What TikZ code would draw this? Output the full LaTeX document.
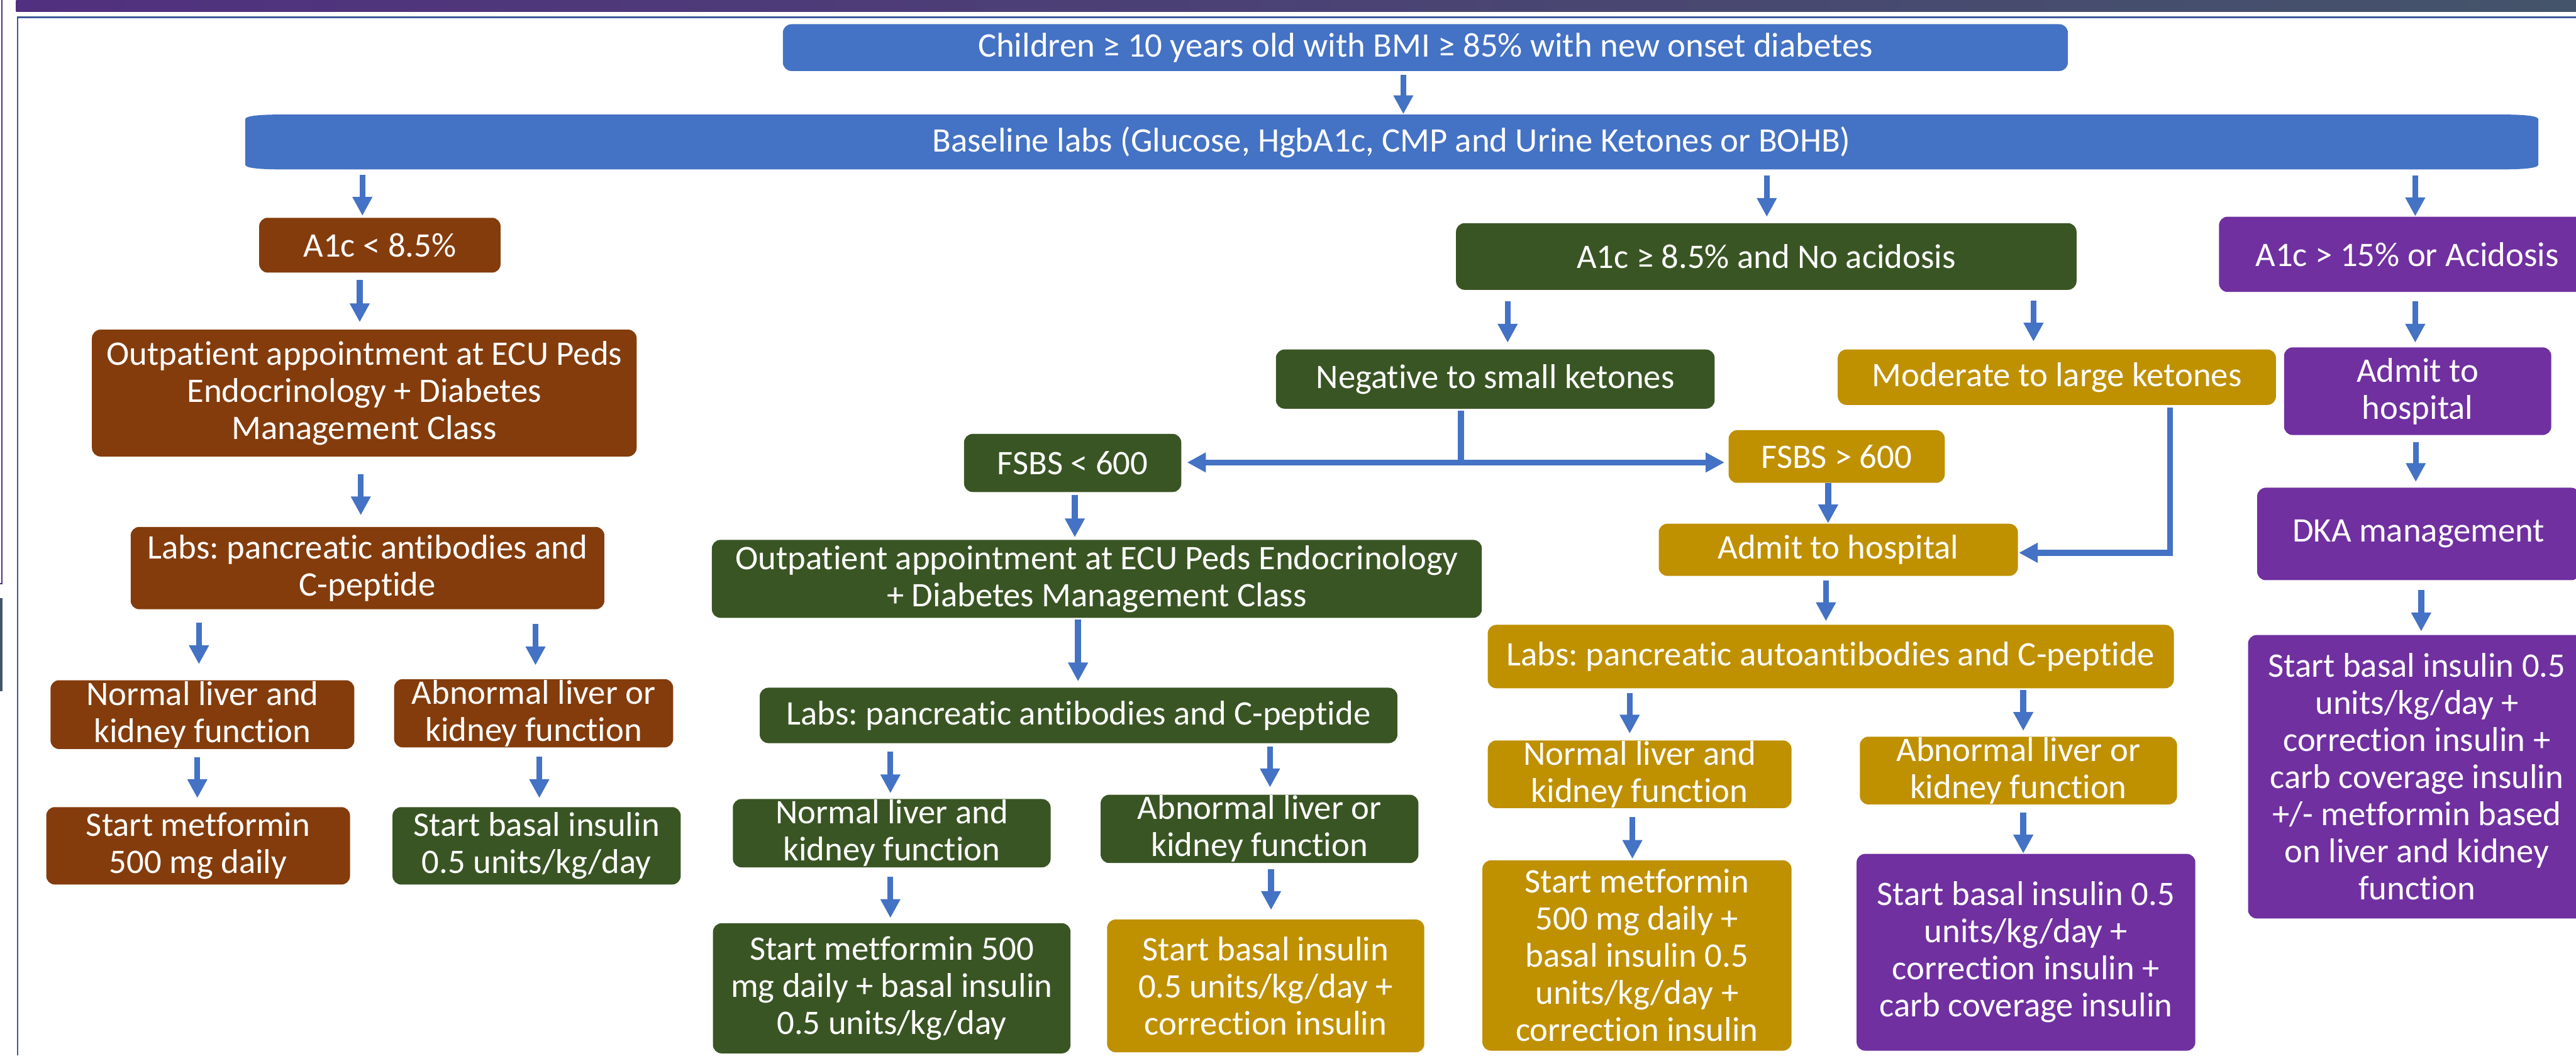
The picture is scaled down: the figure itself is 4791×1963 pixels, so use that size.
\documentclass[tikz,border=0pt]{standalone}
\usepackage{fontspec}
\setmainfont{Carlito}[Ligatures=NoCommon]
\usetikzlibrary{arrows.meta,calc}
\definecolor{arrowc}{HTML}{4472C4}
\definecolor{cblue}{HTML}{4472C4}
\definecolor{cbrown}{HTML}{843C0C}
\definecolor{cgreen}{HTML}{3A5524}
\definecolor{cgold}{HTML}{BF9000}
\definecolor{cpurple}{HTML}{7030A0}
\definecolor{barL}{HTML}{51307F}
\definecolor{barR}{HTML}{44546A}
\definecolor{framec}{HTML}{3D5A98}
\frenchspacing
\tikzset{
  box/.style={rounded corners=4pt, inner sep=0pt, align=center, text=white,
    font=\fontsize{16pt}{17.25pt}\selectfont},
  arr/.style={draw=arrowc, line width=2.75pt, line join=miter, -{Triangle[length=8.75pt,width=8.75pt]}},
  darr/.style={draw=arrowc, line width=2.75pt, {Triangle[length=8.75pt,width=8.75pt]}-{Triangle[length=8.75pt,width=8.75pt]}},
  conn/.style={draw=arrowc, line width=2.75pt},
}
\newcommand\bx[7]{\node[box,fill=#6,minimum width={#4*0.25pt},minimum height={#5*0.25pt}] (#1) at (#2,#3) {#7};}
\newcommand\varr[5]{\draw[arr] ($(#1.south -| #3,0)+(0,#4)$) -- ($(#2.north -| #3,0)+(0,-#5)$);}
\begin{document}
\begin{tikzpicture}[x=0.25pt,y=-0.25pt]
\useasboundingbox (0,0) rectangle (4791,1963);
\clip (0,0) rectangle (4791,1963);
% slide decorations
\shade[left color=barL, right color=barR] (30,0) rectangle (4791,22);
\draw[framec, line width=0.75pt] (33,1963) -- (33,32) -- (4791,32);
\draw[barL, line width=0.6pt] (4,0) -- (4,1085) -- (0,1085);
\fill[barR] (0,1112) rectangle (5,1285);
% baseline labs background
\fill[cblue] (4653,213) .. controls (4700,213) and (4721,216) .. (4721,222) -- (4721,306)
  .. controls (4721,312) and (4700,315) .. (4653,315) -- (524,315)
  .. controls (477,315) and (456,312) .. (456,306) -- (456,222)
  .. controls (456,216) and (477,213) .. (524,213) -- cycle;
% nodes
\bx{n1}{2651}{88.5}{2390}{87}{cblue}{Children ≥ 10 years old with BMI ≥ 85\% with new onset diabetes}
\node[box,minimum width={4264*0.25pt},minimum height={102*0.25pt}] (n2) at (2588,264) {Baseline labs (Glucose, HgbA1c, CMP and Urine Ketones or BOHB)};
\bx{a1}{706.5}{456}{449}{102}{cbrown}{A1c < 8.5\%}
\bx{a2}{3285}{477}{1154}{124}{cgreen}{A1c ≥ 8.5\% and No acidosis}
\bx{a3}{4477}{473}{700}{140}{cpurple}{A1c > 15\% or Acidosis}
\bx{b1}{677.5}{731}{1013}{236}{cbrown}{Outpatient appointment at ECU Peds\\Endocrinology + Diabetes\\Management Class}
\bx{c1}{683.5}{1056.5}{881}{153}{cbrown}{Labs: pancreatic antibodies and\\C-peptide}
\bx{d1}{376.5}{1329}{565}{128}{cbrown}{Normal liver and\\kidney function}
\bx{d2}{992.5}{1326.5}{519}{127}{cbrown}{Abnormal liver or\\kidney function}
\bx{e1}{368.5}{1573}{565}{144}{cbrown}{Start metformin\\500 mg daily}
\bx{e2}{998}{1573}{536}{144}{cgreen}{Start basal insulin\\0.5 units/kg/day}
\bx{f1}{2781}{705}{816}{110}{cgreen}{Negative to small ketones}
\bx{f2}{3825.5}{701.5}{815}{103}{cgold}{Moderate to large ketones}
\bx{p1}{4496.5}{727.5}{497}{163}{cpurple}{Admit to\\hospital}
\bx{p2}{4498}{993}{600}{172}{cpurple}{DKA management}
\bx{p3}{4495}{1444.5}{628}{527}{cpurple}{Start basal insulin 0.5\\units/kg/day +\\correction insulin +\\carb coverage insulin\\+/- metformin based\\on liver and kidney\\function}
\bx{g1}{1995}{861}{404}{108}{cgreen}{FSBS < 600}
\bx{g2}{3416}{849}{402}{98}{cgold}{FSBS > 600}
\bx{h1}{2040}{1076.5}{1432}{145}{cgreen}{Outpatient appointment at ECU Peds Endocrinology\\+ Diabetes Management Class}
\bx{h2}{3419}{1022.5}{668}{97}{cgold}{Admit to hospital}
\bx{i1}{2006}{1330.5}{1186}{103}{cgreen}{Labs: pancreatic antibodies and C-peptide}
\bx{i2}{3405}{1221}{1276}{118}{cgold}{Labs: pancreatic autoantibodies and C-peptide}
\bx{j1}{1658.5}{1549.5}{591}{127}{cgreen}{Normal liver and\\kidney function}
\bx{j2}{2342.5}{1541.5}{591}{127}{cgreen}{Abnormal liver or\\kidney function}
\bx{j3}{3049.5}{1440}{565}{126}{cgold}{Normal liver and\\kidney function}
\bx{j4}{3754}{1433}{590}{126}{cgold}{Abnormal liver or\\kidney function}
\bx{k1}{1658.5}{1838}{665}{242}{cgreen}{Start metformin 500\\mg daily + basal insulin\\0.5 units/kg/day}
\bx{k2}{2354}{1833.5}{590}{247}{cgold}{Start basal insulin\\0.5 units/kg/day +\\correction insulin}
\bx{k3}{3044.5}{1777}{575}{354}{cgold}{Start metformin\\500 mg daily +\\basal insulin 0.5\\units/kg/day +\\correction insulin}
\bx{k4}{3768}{1771}{630}{366}{cpurple}{Start basal insulin 0.5\\units/kg/day +\\correction insulin +\\carb coverage insulin}
% arrows
\varr{n1}{n2}{2610}{6}{0}
\varr{n2}{a1}{674}{9}{3}
\varr{n2}{a2}{3286}{10}{11}
\varr{n2}{a3}{4492}{10}{0}
\varr{a1}{b1}{669}{13}{13}
\varr{b1}{c1}{671}{32}{21}
\varr{c1}{d1}{370}{24}{29}
\varr{c1}{d2}{996}{27}{25}
\varr{d1}{e1}{367}{14}{16}
\varr{d2}{e2}{1003}{16}{16}
\varr{a2}{f1}{2804}{21}{12}
\varr{a2}{f2}{3782}{19}{14}
\varr{a3}{p1}{4492}{17}{8}
\varr{p1}{p2}{4493}{12}{10}
\varr{p2}{p3}{4503}{17}{6}
\varr{g1}{h1}{1999}{5}{4}
\varr{h1}{i1}{2005}{2}{11}
\varr{i1}{j1}{1656}{15}{10}
\varr{i1}{j2}{2362}{5}{13}
\varr{j1}{k1}{1656}{17}{9}
\varr{j2}{k2}{2364}{11}{17}
\varr{g2}{h2}{3400}{0}{0}
\varr{h2}{i2}{3396}{8}{6}
\varr{i2}{j3}{3031}{8}{12}
\varr{i2}{j4}{3763}{2}{10}
\varr{j3}{k3}{3036}{16}{2}
\varr{j4}{k4}{3763}{14}{0}
% FSBS split
\coordinate (jn) at (2717,860);
\draw[conn] ($(f1.south -| jn)+(0,3)$) -- (jn);
\draw[darr] ($(g1.east |- jn)+(10,0)$) -- ($(g2.west |- jn)+(-7,0)$);
% moderate ketones to admit
\coordinate (mc) at (4036,1028);
\draw[arr] ($(f2.south -| mc)+(0,4)$) -- (mc) -- ($(h2.east |- mc)+(1,0)$);
\end{tikzpicture}
\end{document}
